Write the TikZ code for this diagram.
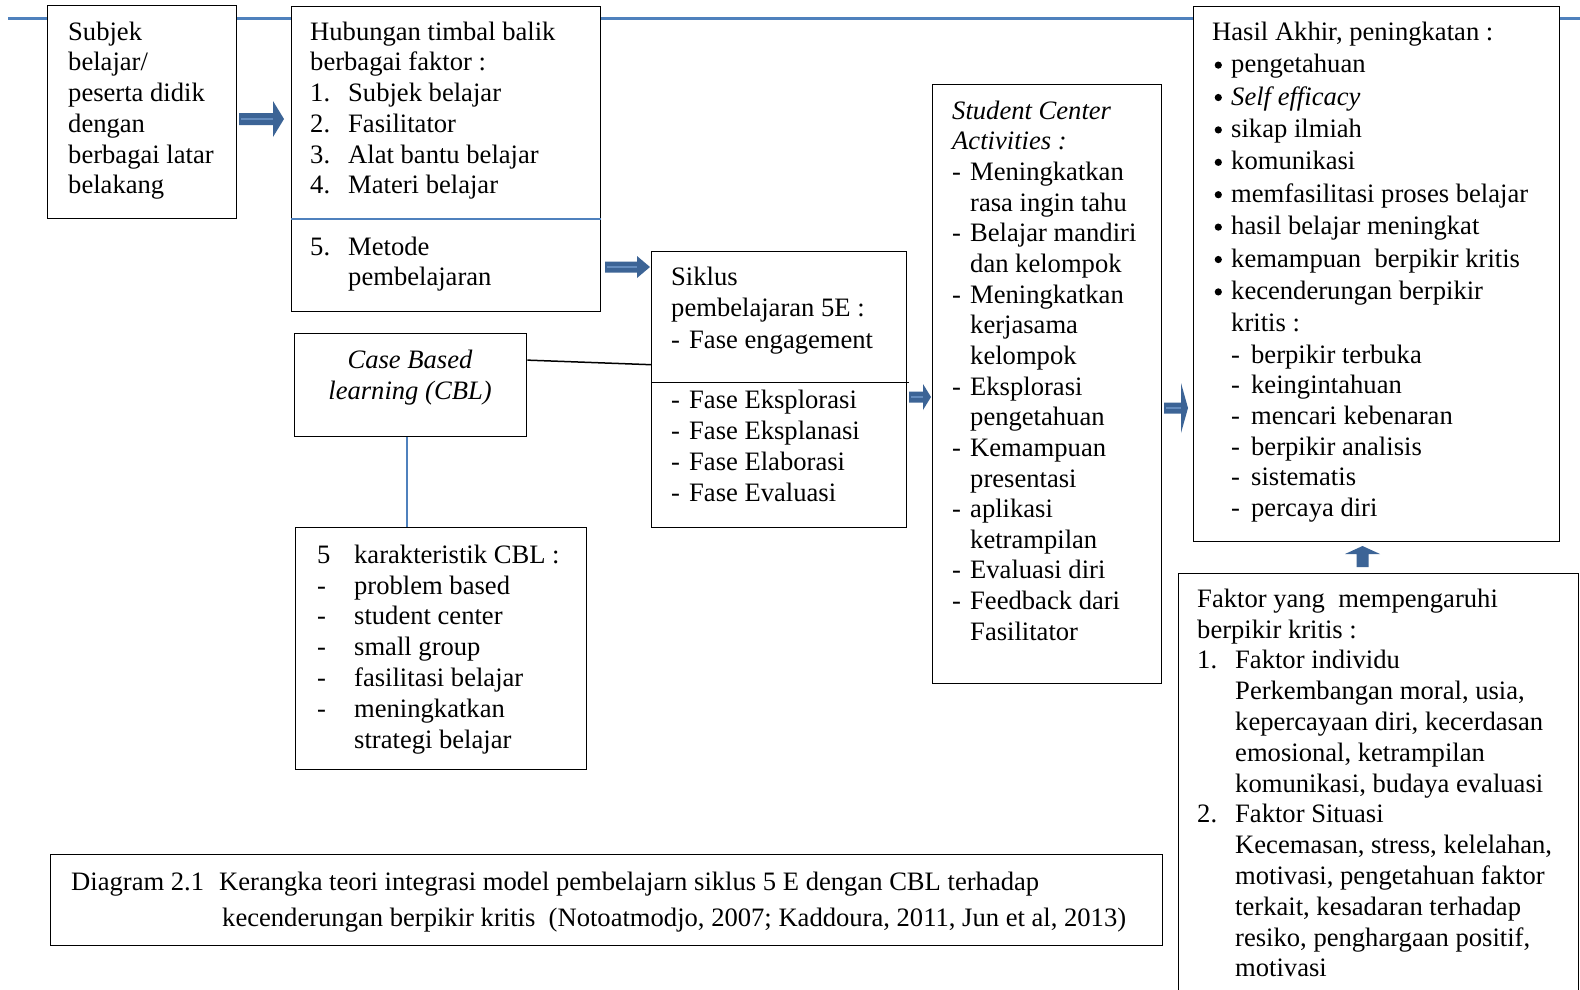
\documentclass[tikz,border=0pt]{standalone}
\usepackage{fontspec}
\setmainfont{Liberation Serif}
\usetikzlibrary{calc}
\definecolor{lineblue}{RGB}{79,129,189}
\definecolor{arrowblue}{RGB}{60,100,150}
\definecolor{stripeblue}{RGB}{100,140,190}
\newcommand\fstrut{\rule{0pt}{24pt}}
\newcommand\nb[2]{\makebox[#1pt][l]{#2}}
\newcommand\ind[1]{\hspace*{#1pt}}
\newcommand\bul{\makebox[19pt][l]{\hspace{2.5pt}\tikz[baseline=0pt]\fill (3.6pt,7.5pt) circle (3.6pt);}}
% right block arrow: x0, head start x, tip x, y, shaft half, head half
\newcommand\rarr[6]{%
  \fill[arrowblue] (#1,#4-#5) -- (#2,#4-#5) -- (#2,#4-#6) -- (#3,#4) -- (#2,#4+#6) -- (#2,#4+#5) -- (#1,#4+#5) -- cycle;
  \draw[stripeblue, line width=1.4] (#1+2,#4) -- (#2,#4);}
\begin{document}
\begin{tikzpicture}[x=1pt,y=-1pt,
  box/.style={draw=black, line width=1.3, fill=white, inner sep=0, anchor=north west},
  txt/.style={anchor=north west, inner sep=0, align=left, font=\fontsize{26.6}{30.7}\selectfont},
  ctxt/.style={anchor=north, inner sep=0, align=center, font=\fontsize{26.6}{31}\selectfont}]
\useasboundingbox (0,0) rectangle (1580,989);
\fill[white] (0,0) rectangle (1580,989);
\clip (0,0) rectangle (1580,989);

% top blue line
\coordinate (tl) at (8,18);
\coordinate (tr) at (1580,18);
\draw[lineblue, line width=3] (tl) -- (tr);

% boxes
\node[box, minimum width=189, minimum height=213] (b1) at (47,5) {};
\node[box, minimum width=309, minimum height=305] (b2) at (291,6) {};
\node[box, minimum width=232, minimum height=103] (cbl) at (294,333) {};
\node[box, minimum width=291, minimum height=242] (kar) at (295,527) {};
\node[box, minimum width=255, minimum height=276] (sik) at (651,251) {};
\node[box, minimum width=229, minimum height=599] (stu) at (932,84) {};
\node[box, minimum width=366, minimum height=535] (has) at (1193,6) {};
\node[box, minimum width=400, minimum height=460] (fak) at (1178,573) {};
\node[box, minimum width=1112, minimum height=91] (cap) at (50,854) {};

% dividers
\draw[lineblue, line width=2] ($(b2.north west)!0.695!(b2.south west)$) coordinate (d2a) -- (d2a -| b2.east);
\draw[black, line width=1.5] ($(sik.north west)!0.475!(sik.south west)$) coordinate (dsa) -- ($(dsa -| sik.east)+(2,0)$);

% connectors
\draw[black, line width=1.5] ($(cbl.north east)!0.26!(cbl.south east)$) -- ($(sik.north west)!0.41!(sik.south west)$);
\draw[lineblue, line width=2] ($(cbl.south)+(-4,0)$) coordinate (cb) -- (cb |- kar.north);

% block arrows
\rarr{239}{273}{284}{119}{6}{18}
\rarr{605}{637}{650}{267}{5.5}{11}
\rarr{909}{923}{931}{397}{5.5}{13}
\rarr{1164}{1181}{1188}{408}{5.5}{25}
\fill[arrowblue] (1356.5,567) -- (1356.5,554) -- (1345,554) -- (1362.5,546) -- (1380,554) -- (1368.5,554) -- (1368.5,567) -- cycle;

% texts
\node[txt] (t1) at (68,16) {\fstrut Subjek\\belajar/\\peserta didik\\dengan\\berbagai latar\\belakang};
\node[txt] (t2) at (310,16) {\fstrut Hubungan timbal balik\\berbagai faktor :\\\nb{38}{1.}Subjek belajar\\\nb{38}{2.}Fasilitator\\\nb{38}{3.}Alat bantu belajar\\\nb{38}{4.}Materi belajar};
\node[txt] (t2b) at (310,231) {\fstrut\nb{38}{5.}Metode\\\ind{38}pembelajaran};
\node[ctxt] (tc) at (410,344) {\fstrut\itshape Case Based\\\itshape learning (CBL)};
\node[txt, font=\fontsize{26.6}{30.8}\selectfont] (tk) at (317,539) {\fstrut\nb{37}{5}karakteristik CBL :\\\nb{37}{-}problem based\\\nb{37}{-}student center\\\nb{37}{-}small group\\\nb{37}{-}fasilitasi belajar\\\nb{37}{-}meningkatkan\\\ind{37}strategi belajar};
\node[txt, font=\fontsize{26.6}{31.5}\selectfont] (ts) at (671,261) {\fstrut Siklus\\pembelajaran 5E :\\\nb{18}{-}Fase engagement};
\node[txt, font=\fontsize{26.6}{31}\selectfont] (ts2) at (671,384) {\fstrut\nb{18}{-}Fase Eksplorasi\\\nb{18}{-}Fase Eksplanasi\\\nb{18}{-}Fase Elaborasi\\\nb{18}{-}Fase Evaluasi};
\node[txt, font=\fontsize{26.6}{30.65}\selectfont] (tst) at (952,95) {\fstrut\textit{Student Center}\\\textit{Activities :}\\\nb{18}{-}Meningkatkan\\\ind{18}rasa ingin tahu\\\nb{18}{-}Belajar mandiri\\\ind{18}dan kelompok\\\nb{18}{-}Meningkatkan\\\ind{18}kerjasama\\\ind{18}kelompok\\\nb{18}{-}Eksplorasi\\\ind{18}pengetahuan\\\nb{18}{-}Kemampuan\\\ind{18}presentasi\\\nb{18}{-}aplikasi\\\ind{18}ketrampilan\\\nb{18}{-}Evaluasi diri\\\nb{18}{-}Feedback dari\\\ind{18}Fasilitator};
\node[txt, font=\fontsize{26.6}{32.4}\selectfont] (th) at (1212,16) {\fstrut Hasil Akhir, peningkatan :\\\bul pengetahuan\\\bul\textit{Self efficacy}\\\bul sikap ilmiah\\\bul komunikasi\\\bul memfasilitasi proses belajar\\\bul hasil belajar meningkat\\\bul kemampuan\ \ berpikir kritis\\\bul kecenderungan berpikir\\\ind{19}kritis :};
\node[txt, font=\fontsize{26.6}{30.6}\selectfont] (th2) at (1231,339) {\fstrut\nb{20}{-}berpikir terbuka\\\nb{20}{-}keingintahuan\\\nb{20}{-}mencari kebenaran\\\nb{20}{-}berpikir analisis\\\nb{20}{-}sistematis\\\nb{20}{-}percaya diri};
\node[txt, font=\fontsize{26.6}{30.8}\selectfont] (tf) at (1197,583) {\fstrut Faktor yang\ \ mempengaruhi\\berpikir kritis :\\\nb{38}{1.}Faktor individu\\\ind{38}Perkembangan moral, usia,\\\ind{38}kepercayaan diri, kecerdasan\\\ind{38}emosional, ketrampilan\\\ind{38}komunikasi, budaya evaluasi\\\nb{38}{2.}Faktor Situasi\\\ind{38}Kecemasan, stress, kelelahan,\\\ind{38}motivasi, pengetahuan faktor\\\ind{38}terkait, kesadaran terhadap\\\ind{38}resiko, penghargaan positif,\\\ind{38}motivasi};
\node[txt, font=\fontsize{26.6}{36}\selectfont] (tcap) at (71,866) {\fstrut\nb{148}{Diagram 2.1}Kerangka teori integrasi model pembelajarn siklus 5 E dengan CBL terhadap\\\ind{151}kecenderungan berpikir kritis\ \ (Notoatmodjo, 2007; Kaddoura, 2011, Jun et al, 2013)};
\end{tikzpicture}
\end{document}
